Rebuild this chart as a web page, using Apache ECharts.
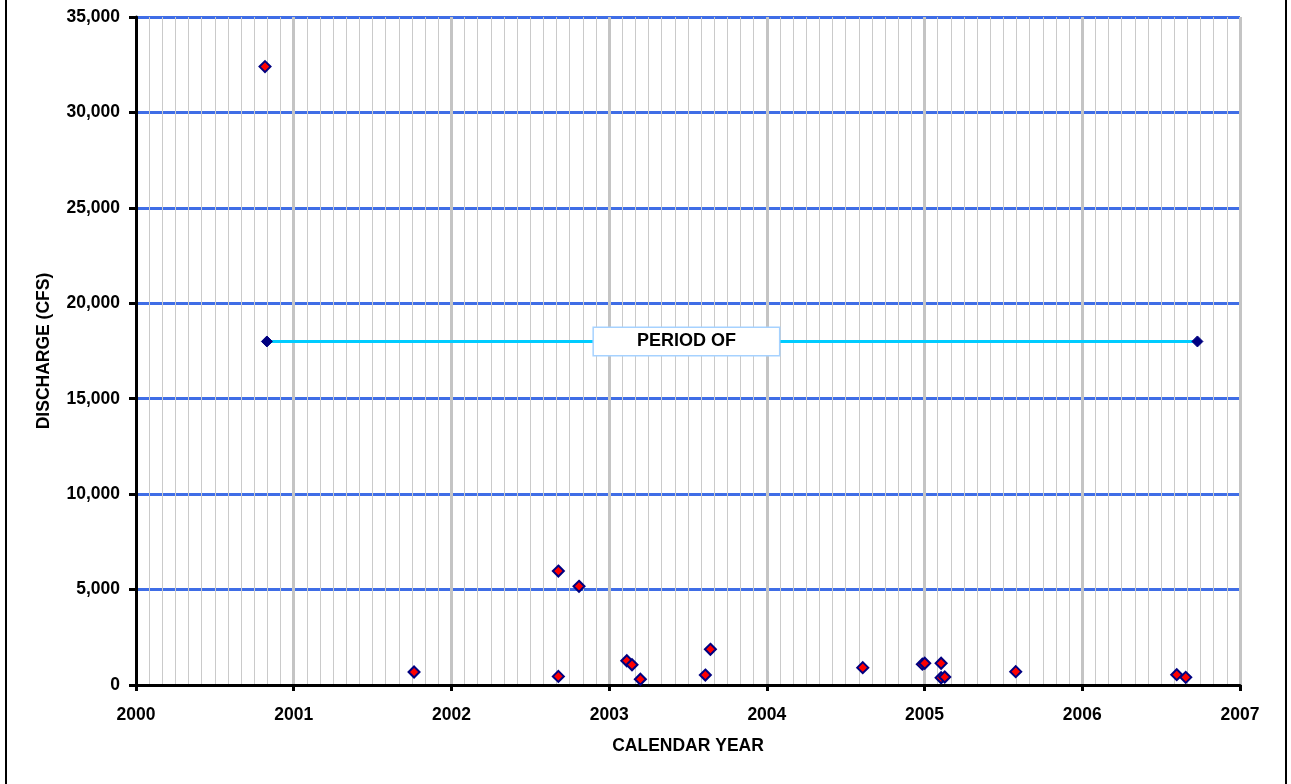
<!DOCTYPE html>
<html>
<head>
<meta charset="utf-8">
<script src="https://cdn.jsdelivr.net/npm/echarts@6/dist/echarts.min.js"></script>
<style>
html,body{margin:0;padding:0;background:#fff;}
#chart{width:1291px;height:784px;}
</style>
</head>
<body>
<div id="chart"></div>
<script>
// ---- DATA ----
var sampleYears = [2000.818, 2001.763, 2002.678, 2002.678, 2002.809, 2003.112, 2003.145, 2003.198, 2003.610, 2003.642, 2004.608, 2004.986, 2005.001, 2005.105, 2005.105, 2005.128, 2005.578, 2006.599, 2006.656];
var sampleDischarge = [32400, 680, 5970, 450, 5170, 1270, 1060, 300, 520, 1870, 910, 1090, 1140, 1140, 380, 420, 700, 540, 400];
var periodYears = [2000.83, 2006.73];
var periodDischarge = [18000, 18000];
var periodLabelText = 'PERIOD OF';
var periodLabelPos = [2003.49, 18000];
var xTickMin = 2000, xTickMax = 2007, xTickStep = 1;
var yTickMin = 0, yTickMax = 35000, yTickStep = 5000;
var xAxisTitle = 'CALENDAR YEAR';
var yAxisTitle = 'DISCHARGE (CFS)';

function zip(a, b) { return a.map(function (v, i) { return [v, b[i]]; }); }

var FONT = '"Liberation Sans", Arial, sans-serif';
var FS = 17.5;
var chart = echarts.init(document.getElementById('chart'), null, {renderer: 'canvas'});
chart.setOption({
  animation: false,
  backgroundColor: '#ffffff',
  grid: {left: 136, right: 51, top: 17, bottom: 99, containLabel: false},
  graphic: [
    {type: 'rect', shape: {x: 5, y: 0, width: 2, height: 784}, style: {fill: '#000'}},
    {type: 'rect', shape: {x: 1285, y: 0, width: 2, height: 784}, style: {fill: '#000'}}
  ],
  xAxis: {
    type: 'value', min: xTickMin, max: xTickMax, interval: xTickStep,
    name: xAxisTitle, nameLocation: 'middle', nameGap: 52,
    nameTextStyle: {fontFamily: FONT, fontWeight: 'bold', fontSize: FS, color: '#000'},
    axisLine: {show: true, onZero: false, lineStyle: {color: '#000', width: 3}},
    axisTick: {show: true, inside: false, length: 6, lineStyle: {color: '#000', width: 3}},
    axisLabel: {fontFamily: FONT, fontWeight: 'bold', fontSize: FS, color: '#000', margin: 21,
      formatter: function (v) { return String(Math.round(v)); }},
    splitLine: {show: true, lineStyle: {color: '#c4c4c4', width: 3}},
    minorTick: {show: false, splitNumber: 12},
    minorSplitLine: {show: true, lineStyle: {color: '#cacaca', width: 1}}
  },
  yAxis: {
    type: 'value', min: yTickMin, max: yTickMax, interval: yTickStep,
    name: yAxisTitle, nameLocation: 'middle', nameGap: 83, nameRotate: 90,
    nameTextStyle: {fontFamily: FONT, fontWeight: 'bold', fontSize: FS, color: '#000'},
    axisLine: {show: true, onZero: false, lineStyle: {color: '#000', width: 3}},
    axisTick: {show: true, inside: false, length: 7, lineStyle: {color: '#000', width: 3}},
    axisLabel: {fontFamily: FONT, fontWeight: 'bold', fontSize: FS, color: '#000', margin: 16,
      formatter: function (v) { return v.toLocaleString('en-US'); }},
    splitLine: {show: true, lineStyle: {color: '#3f6de6', width: 3}}
  },
  series: [
    {
      type: 'line', data: zip(periodYears, periodDischarge),
      symbol: 'diamond', symbolSize: 11, showSymbol: true,
      lineStyle: {color: '#00ccff', width: 3},
      itemStyle: {color: '#000080', borderColor: '#000080', borderWidth: 1, opacity: 1},
      z: 3
    },
    {
      type: 'scatter', data: [periodLabelPos], symbolSize: 0, z: 4,
      itemStyle: {opacity: 1},
      label: {show: true, position: 'inside', formatter: periodLabelText,
        fontFamily: FONT, fontWeight: 'bold', fontSize: 18, color: '#000',
        backgroundColor: '#ffffff', borderColor: '#a6d2ff', borderWidth: 1.5,
        padding: [5, 43, 4, 43]}
    },
    {
      type: 'scatter', data: zip(sampleYears, sampleDischarge),
      symbol: 'diamond', symbolSize: 11,
      itemStyle: {color: '#ff0000', borderColor: '#000080', borderWidth: 2, opacity: 1},
      z: 5
    }
  ]
});
</script>
</body>
</html>
